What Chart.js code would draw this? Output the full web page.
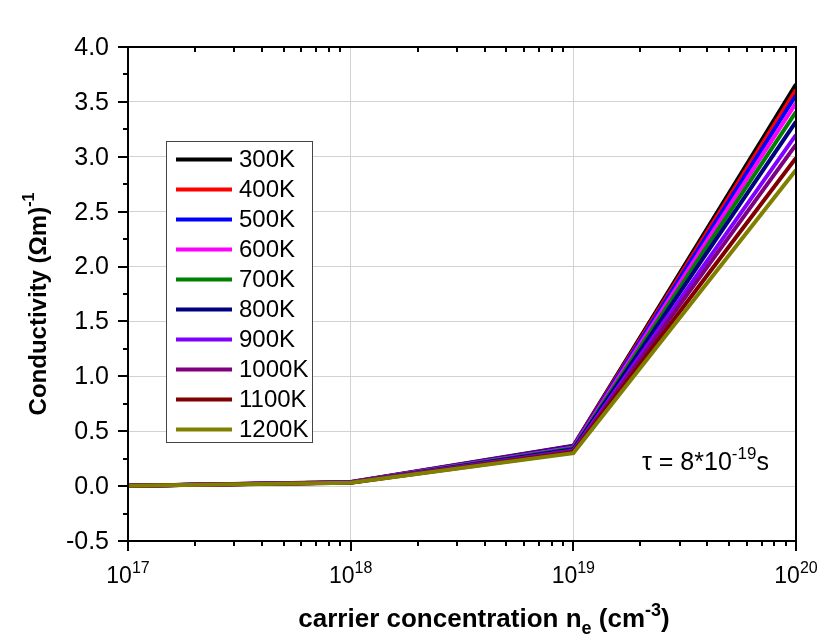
<!DOCTYPE html>
<html>
<head>
<meta charset="utf-8">
<script src="https://cdn.jsdelivr.net/npm/chart.js@4.4.1/dist/chart.umd.min.js"></script>
<style>
  html, body { margin: 0; padding: 0; background: #fff; }
  #wrap { width: 817px; height: 634px; }
</style>
</head>
<body>
<div id="wrap"><canvas id="chart" width="817" height="634"></canvas></div>
<script>
// carrier concentration (cm^-3)
const concentrations = [1e17, 1e18, 1e19, 1e20];
const xTickExponents = [17, 18, 19, 20];
const yTickValues = [-0.5, 0.0, 0.5, 1.0, 1.5, 2.0, 2.5, 3.0, 3.5, 4.0];

const temperatures = ['300K', '400K', '500K', '600K', '700K', '800K', '900K', '1000K', '1100K', '1200K'];
const lineColors = ['#000000', '#ff0000', '#0000ff', '#ff00ff', '#008000', '#000080', '#8000ff', '#800080', '#800000', '#808000'];

// conductivity (Ohm m)^-1 at each concentration
const sigma300K  = [0.0037, 0.037, 0.368, 3.66];
const sigma400K  = [0.0036, 0.036, 0.364, 3.61];
const sigma500K  = [0.0036, 0.036, 0.360, 3.56];
const sigma600K  = [0.0035, 0.035, 0.353, 3.49];
const sigma700K  = [0.0034, 0.034, 0.345, 3.41];
const sigma800K  = [0.0033, 0.034, 0.336, 3.32];
const sigma900K  = [0.0032, 0.033, 0.325, 3.20];
const sigma1000K = [0.0031, 0.032, 0.317, 3.11];
const sigma1100K = [0.0030, 0.031, 0.308, 2.99];
const sigma1200K = [0.0029, 0.030, 0.300, 2.88];

const series = [sigma300K, sigma400K, sigma500K, sigma600K, sigma700K,
                sigma800K, sigma900K, sigma1000K, sigma1100K, sigma1200K];

const FONT = '"Liberation Sans", Arial, sans-serif';
const GRID = '#d2d2d2';

const isDecade = v => Math.abs(Math.log10(v) - Math.round(Math.log10(v))) < 1e-9;

// draws a run of text pieces (for super/subscripts) starting at x
function drawRich(ctx, parts, x, y, align) {
  let total = 0;
  parts.forEach(p => {
    ctx.font = p.font;
    p.w = ctx.measureText(p.text).width;
    total += p.w;
  });
  let cx = align === 'center' ? x - total / 2 : (align === 'right' ? x - total : x);
  ctx.textAlign = 'left';
  ctx.textBaseline = 'alphabetic';
  parts.forEach(p => {
    ctx.font = p.font;
    ctx.fillText(p.text, cx, y + (p.dy || 0));
    cx += p.w;
  });
}

const decorations = {
  id: 'decorations',
  afterDraw(chart) {
    const { ctx, chartArea, scales } = chart;
    const { left, right, top, bottom } = chartArea;
    const xs = scales.x, ys = scales.y;
    ctx.save();
    ctx.fillStyle = '#000';
    ctx.strokeStyle = '#000';
    ctx.lineWidth = 2;

    // x ticks: outward on the bottom, inward on the top
    ctx.beginPath();
    xTickExponents.forEach(e => {
      for (let k = 1; k <= 9; k++) {
        const v = k * Math.pow(10, e);
        if (v > 1e20 * 1.0001) break;
        const px = Math.round(xs.getPixelForValue(v));
        const len = k === 1 ? 10 : 5;
        ctx.moveTo(px, bottom);
        ctx.lineTo(px, bottom + len);
        if (k !== 1) {
          ctx.moveTo(px, top);
          ctx.lineTo(px, top + 5);
        }
      }
    });
    // y ticks every 0.25, outward on the left
    for (let i = 0; i <= 18; i++) {
      const v = -0.5 + i * 0.25;
      const py = Math.round(ys.getPixelForValue(v));
      ctx.moveTo(left, py);
      ctx.lineTo(left - (i % 2 === 0 ? 10 : 5), py);
    }
    ctx.stroke();

    // frame
    ctx.strokeRect(left, top, right - left, bottom - top);

    // y tick labels
    ctx.font = '25px ' + FONT;
    ctx.textAlign = 'right';
    ctx.textBaseline = 'middle';
    yTickValues.forEach(v => {
      ctx.fillText(v.toFixed(1), left - 19, ys.getPixelForValue(v) + 1);
    });

    // x tick labels 10^n
    xTickExponents.forEach(e => {
      const px = xs.getPixelForValue(Math.pow(10, e));
      drawRich(ctx, [
        { text: '10', font: '23px ' + FONT },
        { text: String(e), font: '16px ' + FONT, dy: -10 }
      ], px, 583, 'center');
    });

    // x axis title
    drawRich(ctx, [
      { text: 'carrier concentration n', font: 'bold 26px ' + FONT },
      { text: 'e', font: 'bold 18px ' + FONT, dy: 7 },
      { text: ' (cm', font: 'bold 26px ' + FONT },
      { text: '-3', font: 'bold 18px ' + FONT, dy: -11 },
      { text: ')', font: 'bold 26px ' + FONT }
    ], 484, 627, 'center');

    // y axis title
    ctx.save();
    ctx.translate(46, 304);
    ctx.rotate(-Math.PI / 2);
    drawRich(ctx, [
      { text: 'Conductivity (\u03a9m)', font: 'bold 24px ' + FONT },
      { text: '-1', font: 'bold 16px ' + FONT, dy: -12 }
    ], 0, 0, 'center');
    ctx.restore();

    // legend box
    const lx = 166.5, ly = 141.5, lw = 146, lh = 301;
    ctx.fillStyle = '#fff';
    ctx.fillRect(lx, ly, lw, lh);
    ctx.lineWidth = 1;
    ctx.strokeStyle = '#444';
    ctx.strokeRect(lx, ly, lw, lh);
    chart.data.datasets.forEach((ds, i) => {
      const yy = 159.5 + i * 30;
      ctx.strokeStyle = ds.borderColor;
      ctx.lineWidth = 4;
      ctx.beginPath();
      ctx.moveTo(176, yy);
      ctx.lineTo(232, yy);
      ctx.stroke();
      ctx.fillStyle = '#000';
      ctx.font = '24px ' + FONT;
      ctx.textAlign = 'left';
      ctx.textBaseline = 'middle';
      ctx.fillText(ds.label, 239, yy + 1);
    });

    // relaxation time note
    ctx.fillStyle = '#000';
    drawRich(ctx, [
      { text: '\u03c4 = 8*10', font: '25px ' + FONT },
      { text: '-19', font: '17px ' + FONT, dy: -11 },
      { text: 's', font: '25px ' + FONT }
    ], 642, 470, 'left');

    ctx.restore();
  }
};

const canvasBg = {
  id: 'canvasBg',
  beforeDraw(chart) {
    const { ctx, width, height } = chart;
    ctx.save();
    ctx.fillStyle = '#fff';
    ctx.fillRect(0, 0, width, height);
    ctx.restore();
  }
};

const ctx = document.getElementById('chart').getContext('2d');
new Chart(ctx, {
  type: 'line',
  data: {
    datasets: temperatures.map((t, i) => ({
      label: t,
      data: concentrations.map((c, j) => ({ x: c, y: series[i][j] })),
      borderColor: lineColors[i],
      backgroundColor: lineColors[i],
      borderWidth: 4,
      pointRadius: 0,
      tension: 0,
      fill: false,
      clip: 0,
      // later temperatures sit on top
      order: temperatures.length - i
    }))
  },
  options: {
    responsive: false,
    animation: false,
    devicePixelRatio: 1,
    layout: { padding: { left: 0, top: 47, right: 21, bottom: 0 } },
    plugins: {
      legend: { display: false },
      tooltip: { enabled: false }
    },
    scales: {
      x: {
        type: 'logarithmic',
        min: 1e17,
        max: 1e20,
        afterBuildTicks: scale => {
          const ticks = [];
          xTickExponents.forEach(e => {
            for (let k = 1; k <= 9; k++) {
              const v = k * Math.pow(10, e);
              if (v <= 1e20 * 1.0001) ticks.push({ value: v });
            }
          });
          scale.ticks = ticks;
        },
        afterFit: scale => { scale.height = 93; },
        ticks: { display: false },
        grid: {
          color: c => (c.tick && isDecade(c.tick.value)) ? GRID : 'rgba(0,0,0,0)',
          lineWidth: 1,
          drawTicks: false
        },
        border: { display: false }
      },
      y: {
        min: -0.5,
        max: 4.0,
        afterFit: scale => { scale.width = 128; },
        ticks: { display: false, stepSize: 0.5 },
        grid: { color: GRID, lineWidth: 1, drawTicks: false },
        border: { display: false }
      }
    }
  },
  plugins: [canvasBg, decorations]
});
</script>
</body>
</html>
